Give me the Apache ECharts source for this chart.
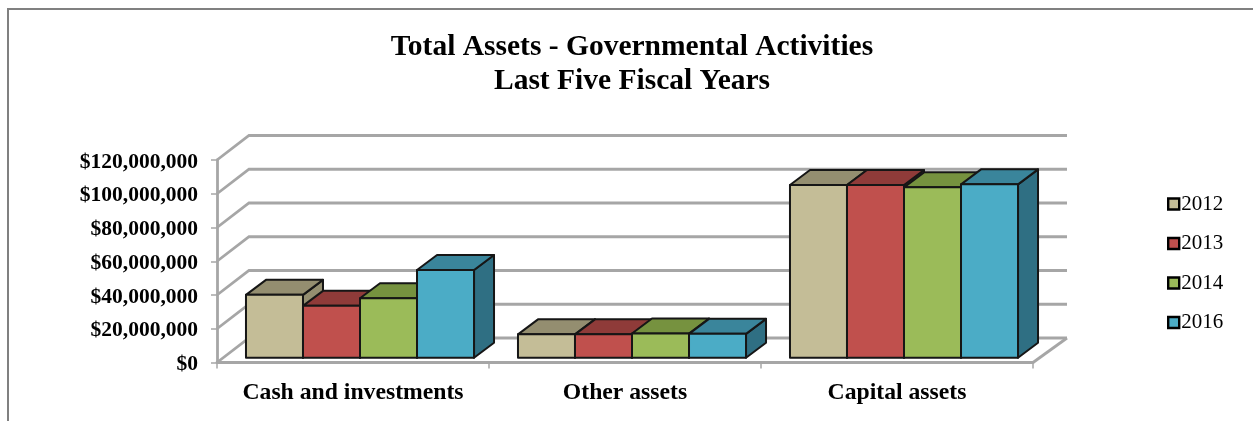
<!DOCTYPE html>
<html><head><meta charset="utf-8">
<style>html,body{margin:0;padding:0;background:#fff}#c{width:1253px;height:421px}</style>
<script src="https://cdn.jsdelivr.net/npm/echarts@6/dist/echarts.min.js"></script>
</head><body><div id="c"></div>
<script>
var categories = ['Cash and investments', 'Other assets', 'Capital assets'];
var years = ['2012', '2013', '2014', '2016'];
var v2012 = [37300000, 13900000, 102400000];
var v2013 = [30800000, 13900000, 102400000];
var v2014 = [35300000, 14400000, 101000000];
var v2016 = [52000000, 14200000, 102800000];
var ticks = [0, 20000000, 40000000, 60000000, 80000000, 100000000, 120000000];
var fills = ['#C4BD97', '#C0504D', '#9BBB59', '#4BACC6'];
var tops = ['#948E70', '#8F3B39', '#76923F', '#3A859B'];
var sides = ['#948E70', '#8F3B39', '#76923F', '#2F6F83'];
var allValues = [v2012, v2013, v2014, v2016];
var serif = '"Liberation Serif","Times New Roman",serif';
var chart = echarts.init(document.getElementById('c'));
var gray = '#A6A6A6';
function wallRender(params, api) {
  var cs = params.coordSys, y = api.coord([0, api.value(0)])[1];
  var x0 = cs.x, x1 = cs.x + cs.width, dx = 32, dy = -24.5;
  var kids = [{type: 'polyline', shape: {points: [[x0, y], [x0 + dx, y + dy], [x1 + dx + 2, y + dy]]},
    style: {stroke: gray, lineWidth: 2.8, fill: null}}];
  if (api.value(0) === 0) {
    kids.push({type: 'line', shape: {x1: x1, y1: y, x2: x1 + dx + 2, y2: y + dy},
      style: {stroke: gray, lineWidth: 2.8}});
  }
  return {type: 'group', children: kids};
}
function barRender(si) {
  return function (params, api) {
    var idx = api.value(0), val = api.value(1);
    var band = api.size([1, 0])[0], w = band * 0.2096;
    var c0 = api.coord([idx, 0]), c1 = api.coord([idx, val]);
    var sx = 7, sy = -4.7, dx = 20, dy = -15;
    var l = c0[0] + (si - 2) * w + sx, r = l + w, b = c0[1] + sy, t = c1[1] + sy;
    var st = {stroke: '#161616', lineWidth: 2, lineJoin: 'round'};
    return {type: 'group', children: [
      {type: 'polygon', shape: {points: [[r, t], [r + dx, t + dy], [r + dx, b + dy], [r, b]]},
        style: Object.assign({fill: sides[si]}, st)},
      {type: 'polygon', shape: {points: [[l, t], [l + dx, t + dy], [r + dx, t + dy], [r, t]]},
        style: Object.assign({fill: tops[si]}, st)},
      {type: 'rect', shape: {x: l, y: t, width: w, height: b - t},
        style: Object.assign({fill: fills[si]}, st)}
    ]};
  };
}
var series = [{type: 'custom', coordinateSystem: 'cartesian2d', renderItem: wallRender, silent: true,
  encode: {y: 0}, data: ticks.map(function (t) { return [t]; }), z: 1}];
years.forEach(function (y, si) {
  series.push({name: y, type: 'custom', coordinateSystem: 'cartesian2d', renderItem: barRender(si),
    encode: {x: 0, y: 1}, z: 2 + si,
    itemStyle: {color: fills[si], borderColor: '#000', borderWidth: 2.4},
    data: allValues[si].map(function (v, i) { return [i, v]; })});
});
chart.setOption({
  animation: false,
  backgroundColor: '#fff',
  title: {text: 'Total Assets - Governmental Activities\nLast Five Fiscal Years', left: 627, textAlign: 'center', top: 25,
    textStyle: {fontFamily: serif, fontSize: 29.5, fontWeight: 'bold', color: '#000', lineHeight: 34}},
  legend: {orient: 'vertical', left: 1162, top: 188.5, itemWidth: 11, itemHeight: 11, itemGap: 18.5, icon: 'rect', data: years,
    itemStyle: {borderColor: '#000', borderWidth: 2.4},
    textStyle: {fontFamily: serif, fontSize: 21, color: '#000', padding: [0, 0, 0, -3]}},
  grid: {left: 217, right: 220, top: 160, bottom: 58.5},
  xAxis: {type: 'category', data: categories, boundaryGap: true,
    axisLine: {lineStyle: {color: gray, width: 2.8}},
    axisTick: {show: true, alignWithLabel: false, interval: 0, length: 6, lineStyle: {color: gray, width: 1.5}},
    axisLabel: {fontFamily: serif, fontSize: 23.7, fontWeight: 'bold', color: '#000', margin: 18, interval: 0, hideOverlap: false}},
  yAxis: {type: 'value', min: 0, max: 120000000, interval: 20000000,
    splitLine: {show: false},
    axisLine: {show: true, lineStyle: {color: gray, width: 2.8}},
    axisTick: {show: true, length: 6, lineStyle: {color: gray, width: 1.5}},
    axisLabel: {fontFamily: serif, fontSize: 21.5, fontWeight: 'bold', color: '#000', margin: 19, verticalAlign: 'top', padding: [-9, 0, 0, 0],
      formatter: function (v) { return '$' + v.toLocaleString('en-US'); }}},
  graphic: [
    {type: 'line', silent: true, shape: {x1: 7, y1: 9, x2: 1253, y2: 9}, style: {stroke: '#808080', lineWidth: 2}},
    {type: 'line', silent: true, shape: {x1: 8, y1: 8, x2: 8, y2: 421}, style: {stroke: '#808080', lineWidth: 2}}
  ],
  series: series
});
</script></body></html>
